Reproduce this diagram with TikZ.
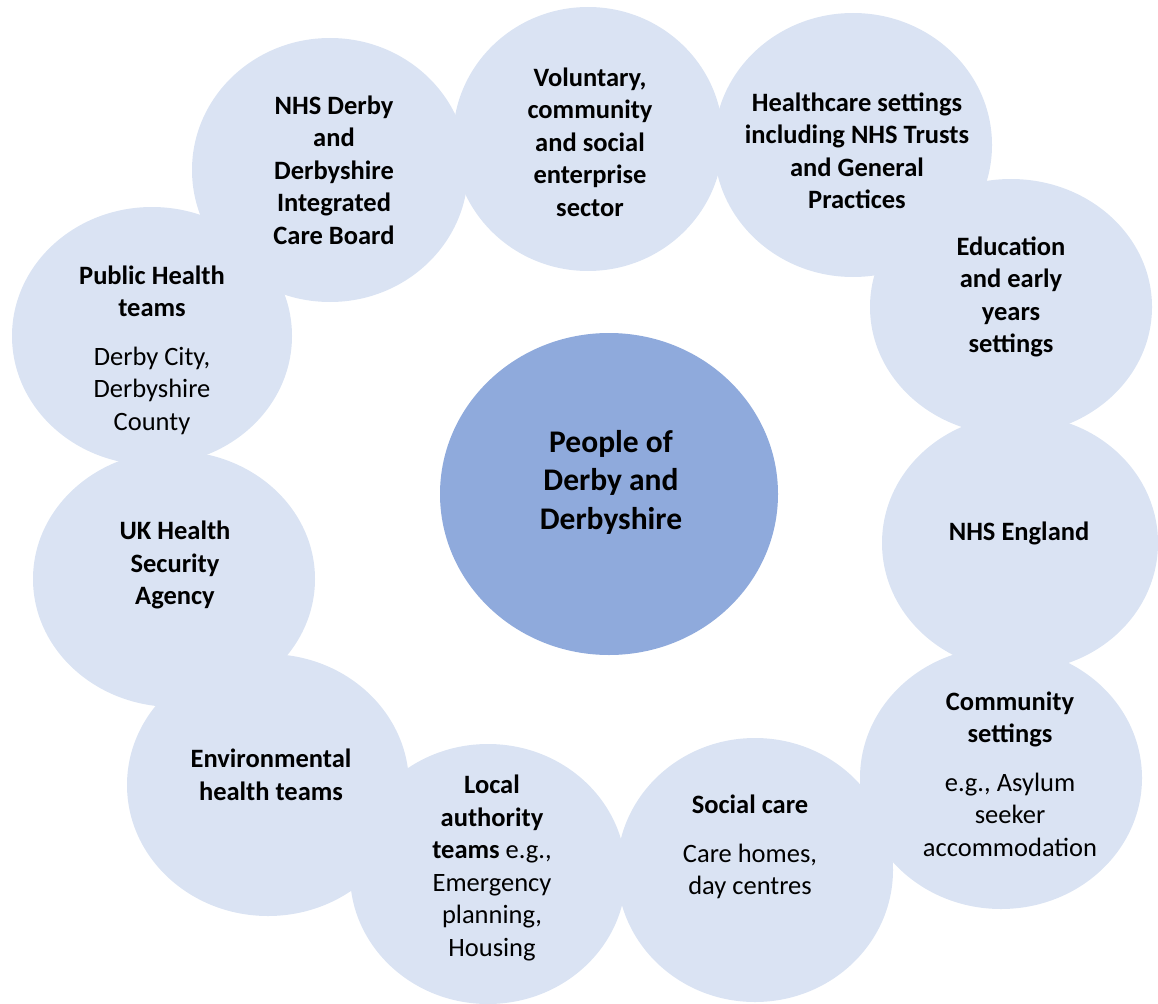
\documentclass[tikz,border=0pt]{standalone}
\usepackage{fontspec}
\setmainfont{Carlito}
\usetikzlibrary{shapes.geometric}
\definecolor{bubble}{HTML}{DAE3F3}
\definecolor{corefill}{HTML}{8FAADC}
\begin{document}
\begin{tikzpicture}[x=1pt,y=-1pt,
  bub/.style={ellipse, fill=bubble, draw=none, inner sep=0pt},
  corebub/.style={ellipse, fill=corefill, draw=none, inner sep=0pt},
  lbl/.style={align=center, inner sep=0pt, text=black,
    font=\fontsize{26.5}{32.5}\selectfont},
  corelbl/.style={align=center, inner sep=0pt, text=black,
    font=\fontsize{31.5}{38.5}\selectfont\bfseries}]
\useasboundingbox (0,0) rectangle (1158,1003);
\clip (0,0) rectangle (1158,1003);
% bubbles
\node[bub, minimum width=270pt, minimum height=264pt] (cVol) at (588,139) {};
\node[bub, minimum width=276pt, minimum height=264pt] (cICB) at (330,170) {};
\node[bub, minimum width=278pt, minimum height=264pt] (cHC)  at (853,145) {};
\node[bub, minimum width=280pt, minimum height=258pt] (cPH)  at (152,336) {};
\node[bub, minimum width=282pt, minimum height=256pt] (cEd)  at (1011,307) {};
\node[bub, minimum width=282pt, minimum height=256pt] (cUK)  at (174,579) {};
\node[bub, minimum width=276pt, minimum height=256pt] (cNE)  at (1020,543) {};
\node[bub, minimum width=282pt, minimum height=262pt] (cEnv) at (268,785) {};
\node[bub, minimum width=282pt, minimum height=262pt] (cCom) at (1001,778) {};
\node[bub, minimum width=276pt, minimum height=264pt] (cSoc) at (755,870) {};
\node[bub, minimum width=276pt, minimum height=260pt] (cLA)  at (488,874) {};
\node[corebub, minimum width=338pt, minimum height=322pt] (cCore) at (609,494) {};
% labels
\node[lbl] (tVol) at (590,142) {\textbf{Voluntary,}\\\textbf{community}\\\textbf{and social}\\\textbf{enterprise}\\\textbf{sector}};
\node[lbl] (tICB) at (334,170) {\textbf{NHS Derby}\\\textbf{and}\\\textbf{Derbyshire}\\\textbf{Integrated}\\\textbf{Care Board}};
\node[lbl] (tHC) at (857,151) {\textbf{Healthcare settings}\\\textbf{including NHS Trusts}\\\textbf{and General}\\\textbf{Practices}};
\node[lbl] (tPH) at (152,350) {\textbf{Public Health}\\\textbf{teams}\\[16pt]Derby City,\\Derbyshire\\County};
\node[lbl] (tEd) at (1011,297) {\textbf{Education}\\\textbf{and early}\\\textbf{years}\\\textbf{settings}};
\node[lbl] (tUK) at (175,565) {\textbf{UK Health}\\\textbf{Security}\\\textbf{Agency}};
\node[lbl] (tNE) at (1019,533) {\textbf{NHS England}};
\node[lbl] (tEnv) at (271,775) {\textbf{Environmental}\\\textbf{health teams}};
\node[lbl] (tCom) at (1010,774) {\textbf{Community}\\\textbf{settings}\\[16pt]e.g., Asylum\\seeker\\accommodation};
\node[lbl] (tSoc) at (750,847) {\textbf{Social care}\\[16pt]Care homes,\\day centres};
\node[lbl] (tLA) at (492,868) {\textbf{Local}\\\textbf{authority}\\\textbf{teams} e.g.,\\Emergency\\planning,\\Housing};
\node[corelbl] (tCore) at (611,482) {People of\\Derby and\\Derbyshire};
\end{tikzpicture}
\end{document}
